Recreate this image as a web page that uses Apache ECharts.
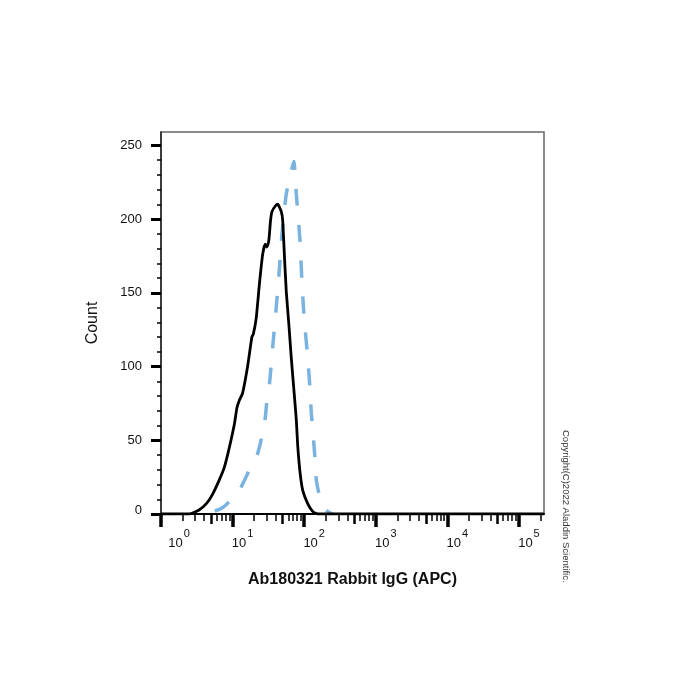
<!DOCTYPE html>
<html>
<head>
<meta charset="utf-8">
<script src="https://cdn.jsdelivr.net/npm/echarts@6/dist/echarts.min.js"></script>
<style>
  html, body { margin: 0; padding: 0; background: #fff; }
  #chart { width: 700px; height: 700px; }
</style>
</head>
<body>
<div id="chart"></div>
<script>
// isotype control (black, solid)
var blackX = [1, 2.5, 3.4, 4.3, 5.2, 6.5, 7.7, 9.0, 10.6, 11.5, 12.4, 13.8, 16.2, 18.6, 19.5, 21.4, 23.7, 26.3, 28.5, 30.2,
  32.0, 33.9, 35.5, 39.8, 42.7, 47.9, 50.1, 53.1, 56.2, 61, 66, 71.6, 77.6, 81.3, 88.1, 95.5, 112, 132, 155, 223000];
var blackCount = [0, 0, 2.7, 7, 13, 23, 32, 45, 61, 72, 77, 82, 100, 120, 122, 133, 156, 176, 183, 181,
  185, 199, 205, 209, 210, 205, 199, 174, 151, 129, 106, 85, 64, 46, 27, 16, 7, 1.6, 0, 0];

// stained sample (blue, dashed)
var blueX = [3.2, 4.0, 5.2, 7.1, 9.5, 12.4, 17.2, 22.4, 27.9, 30.9, 32.7, 36.3, 40.7, 45.2, 49, 56.2, 63, 71.6, 77.6, 88.1,
  93.3, 100, 112, 119, 126, 140, 148, 164, 186, 214, 251];
var blueCount = [0, 1, 1.5, 4, 9.5, 16, 30, 41, 61, 82, 88, 113, 140, 167, 190, 217, 228, 239, 217, 183,
  156, 133, 106, 89, 68, 41, 23, 12, 5, 1.6, 0];

var xDecades = [0, 1, 2, 3, 4, 5];
var xMinorSteps = [2, 3, 4, 6, 7, 8, 9];
var xMax = 5.35;
var yMajor = [0, 50, 100, 150, 200, 250];
var yMax = 259;

function toPairs(xs, ys) {
  return xs.map(function (x, i) { return [Math.log10(x), ys[i]]; });
}

var midTicks = [], minorTicks = [];
xDecades.forEach(function (d) {
  if (d + Math.log10(5) <= xMax) midTicks.push(d + Math.log10(5));
  xMinorSteps.forEach(function (m) {
    var v = d + Math.log10(m);
    if (v <= xMax) minorTicks.push(v);
  });
});
var yMinor = [];
for (var v = 10; v < yMax; v += 10) { if (v % 50 !== 0) yMinor.push(v); }

var font = 'Liberation Sans, Arial, sans-serif';

function tickAxis(vals, len, w) {
  return {
    type: 'value', min: 0, max: xMax, position: 'bottom',
    axisLine: { show: false }, splitLine: { show: false },
    axisLabel: { show: false },
    axisTick: { show: true, customValues: vals, length: len, lineStyle: { color: '#000', width: w } }
  };
}

var chart = echarts.init(document.getElementById('chart'));
chart.setOption({
  backgroundColor: '#fff',
  animation: false,
  grid: { left: 161, right: 156, top: 132, bottom: 186, show: true, borderColor: '#666', borderWidth: 1.5 },
  xAxis: [
    {
      type: 'value', min: 0, max: xMax, position: 'bottom',
      name: 'Ab180321 Rabbit IgG (APC)', nameLocation: 'middle', nameGap: 58,
      nameTextStyle: { fontFamily: font, fontSize: 16, fontWeight: 'bold', color: '#111' },
      axisLine: { show: true, lineStyle: { color: '#000', width: 2 } },
      splitLine: { show: false },
      axisTick: { show: true, customValues: xDecades, length: 13, lineStyle: { color: '#000', width: 3.5 } },
      axisLabel: {
        customValues: xDecades, margin: 14, padding: [0, 0, 0, 20],
        formatter: function (v) {
          var e = Math.round(v);
          return (e === 0 ? '{f|10}' : '{b|10}') + '{s|' + e + '}';
        },
        rich: {
          b: { fontFamily: font, fontSize: 13, color: '#111', lineHeight: 22, verticalAlign: 'bottom' },
          f: { fontFamily: font, fontSize: 13, color: '#111', lineHeight: 22, verticalAlign: 'bottom', padding: [0, 0, 0, 16] },
          s: { fontFamily: font, fontSize: 11, color: '#111', lineHeight: 9, verticalAlign: 'top', padding: [0, 0, 0, 1] }
        }
      }
    },
    tickAxis(midTicks, 10, 2.5),
    tickAxis(minorTicks, 7, 1.5)
  ],
  yAxis: [
    {
      type: 'value', min: 0, max: yMax, position: 'left',
      name: 'Count', nameLocation: 'middle', nameGap: 60,
      nameTextStyle: { fontFamily: font, fontSize: 16, color: '#111' },
      axisLine: { show: true, lineStyle: { color: '#222', width: 1.5 } },
      splitLine: { show: false },
      axisTick: { show: true, customValues: yMajor, length: 10, lineStyle: { color: '#000', width: 3 } },
      axisLabel: {
        customValues: yMajor, margin: 19, fontFamily: font, fontSize: 13, color: '#111',
        formatter: function (v) { return v === 0 ? '{z|0}' : String(v); },
        rich: { z: { fontFamily: font, fontSize: 13, color: '#111', padding: [0, 0, 8, 0] } }
      }
    },
    {
      type: 'value', min: 0, max: yMax, position: 'left',
      axisLine: { show: false }, splitLine: { show: false }, axisLabel: { show: false },
      axisTick: { show: true, customValues: yMinor, length: 4, lineStyle: { color: '#000', width: 1.5 } }
    }
  ],
  graphic: [{
    type: 'text', x: 566, y: 430, rotation: -Math.PI / 2,
    style: { text: 'Copyright(C)2022 Aladdin Scientific.', fontFamily: font, fontSize: 9.5, fill: '#333',
      textAlign: 'left', textVerticalAlign: 'middle' }
  }],
  series: [
    {
      type: 'line', data: toPairs(blueX, blueCount), showSymbol: false, symbol: 'none', smooth: 0.2,
      lineStyle: { color: '#7ab3e0', width: 3.5, type: [17, 19], dashOffset: 18 }, z: 2
    },
    {
      type: 'line', data: toPairs(blackX, blackCount), showSymbol: false, symbol: 'none', smooth: 0.15,
      lineStyle: { color: '#000', width: 2.8 }, z: 3
    }
  ]
});
</script>
</body>
</html>
